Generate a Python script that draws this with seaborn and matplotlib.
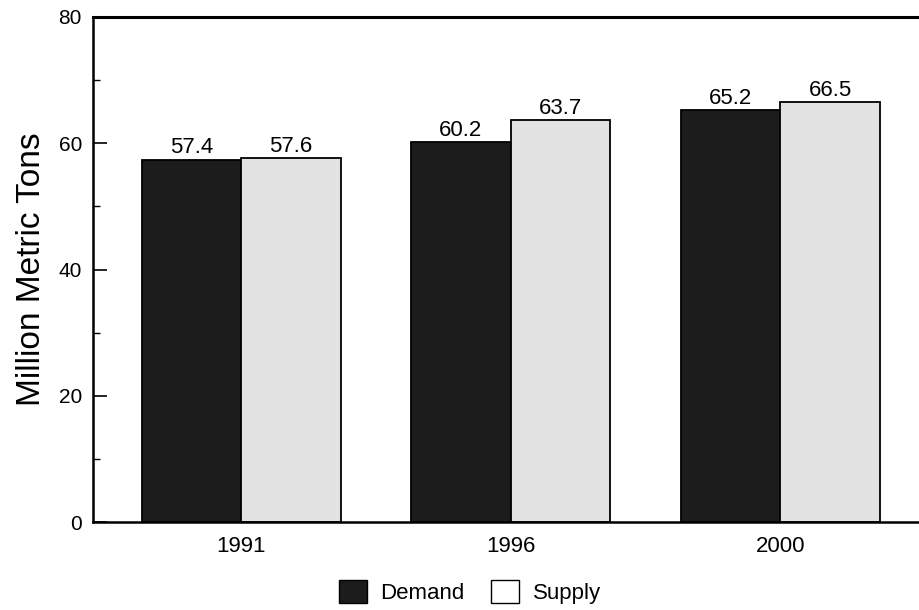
import matplotlib
matplotlib.use("Agg")
import matplotlib.pyplot as plt
import seaborn as sns
import pandas as pd
from matplotlib.patches import Patch
from matplotlib.ticker import MultipleLocator

years = ["1991", "1996", "2000"]
demand = [57.4, 60.2, 65.2]
supply = [57.6, 63.7, 66.5]
series = ["Demand", "Supply"]

df = pd.DataFrame({
    "Year": years * 2,
    "Value": demand + supply,
    "Series": [series[0]] * len(years) + [series[1]] * len(years),
})

sns.set_theme(style="white")
plt.rcParams['font.family'] = ['Liberation Sans', 'DejaVu Sans']
plt.rcParams['text.color'] = 'black'
plt.rcParams['axes.labelcolor'] = 'black'
plt.rcParams['xtick.color'] = 'black'
plt.rcParams['ytick.color'] = 'black'

fig = plt.figure(figsize=(9.2, 6.1), dpi=100)
ax = fig.add_axes([93 / 920, 88 / 610, 870 / 920, 505 / 610])

colors = {"Demand": "#1c1c1c", "Supply": "#e2e2e2"}
sns.barplot(data=df, x="Year", y="Value", hue="Series", palette=colors,
            width=0.74, edgecolor="black", linewidth=1.3, ax=ax, legend=False,
            saturation=1)

for cont in ax.containers:
    ax.bar_label(cont, fmt="%.1f", padding=1, fontsize=16, color="black")

# 1 unit = ~269.5 px; left spine at -0.55
ax.set_xlim(-0.55, -0.55 + 870 / 269.5)
ax.set_ylim(0, 80)
ax.yaxis.set_major_locator(MultipleLocator(20))
ax.yaxis.set_minor_locator(MultipleLocator(10))
ax.tick_params(axis="y", which="major", direction="in", length=10, width=1.2,
               labelsize=15, left=True, pad=8)
ax.tick_params(axis="y", which="minor", direction="in", length=5, width=1.0, left=True)
ax.tick_params(axis="x", length=0, labelsize=16, pad=10)
ax.set_xlabel("")
ax.set_ylabel("Million Metric Tons", fontsize=24, labelpad=8)

for side in ["left", "bottom", "top", "right"]:
    ax.spines[side].set_visible(True)
    ax.spines[side].set_color("black")
ax.spines["left"].set_linewidth(1.8)
ax.spines["bottom"].set_linewidth(1.8)
ax.spines["top"].set_linewidth(2.2)

handles = [Patch(facecolor=colors["Demand"], edgecolor="black", label="Demand"),
           Patch(facecolor="white", edgecolor="black", label="Supply")]
fig.legend(handles=handles, loc="center", bbox_to_anchor=(470 / 920, 1 - 592 / 610),
           ncol=2, frameon=False, fontsize=16, handlelength=1.25, handleheight=1.25,
           handletextpad=0.6, columnspacing=1.2)

fig.savefig("out.png", dpi=100)
